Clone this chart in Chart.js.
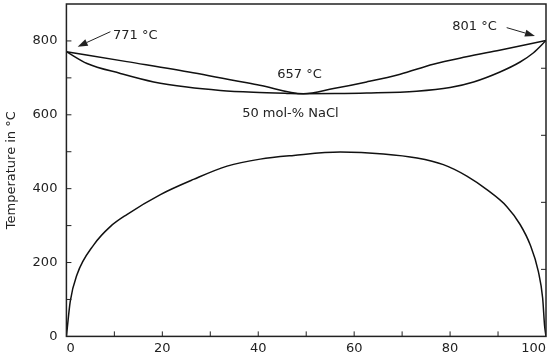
<!DOCTYPE html>
<html>
<head>
<meta charset="utf-8">
<script src="https://cdn.jsdelivr.net/npm/chart.js@4.4.0/dist/chart.umd.min.js"></script>
<style>
html, body { margin: 0; padding: 0; background: #fff; }
#wrap { width: 550px; height: 360px; }
</style>
</head>
<body>
<div id="wrap"><canvas id="myChart"></canvas></div>
<script>
// mol-% NaCl vs temperature (°C)
var liquidusX = [0, 12.6, 26.4, 40.3, 49.4, 55.7, 62.6, 69.6, 76.5, 83.4, 90.3, 100];
var liquidusT = [771, 744, 714, 680, 657, 671, 689, 710, 737, 757, 775, 801];

var solidusX = [0, 4.3, 11.25, 18.2, 25.1, 32.1, 39.0, 46.0, 49.4, 56, 62.6, 73, 80, 84.9, 90.4, 94.6, 97.4, 100];
var solidusT = [771, 739, 712, 689, 675, 666, 661, 658, 657, 657.5, 659, 664, 674, 689, 716, 743, 768, 801];

var solvusX = [0, 0.8, 2.2, 5.7, 9.2, 12.6, 19.6, 26.5, 33.5, 40.4, 47.4, 57.1, 66.1, 73.1, 78.6, 83.5, 87.6, 91.8, 94.6, 96.7, 98.4, 99.3, 99.7, 100];
var solvusT = [0, 95, 167, 248, 298, 330, 384, 425, 461, 480, 490, 499, 494, 483, 465, 434, 398, 352, 303, 248, 176, 104, 30, 0];

var xTicks = [10, 20, 30, 40, 50, 60, 70, 80, 90];
var yTicks = [100, 200, 300, 400, 500, 600, 700, 800];
var rightTicks = [181.5, 363, 544.5, 726];

function pts(xs, ys) {
    return xs.map(function (x, i) { return { x: x, y: ys[i] }; });
}

var FONT = 'DejaVu Sans';
var INK = '#222';

var extras = {
    id: 'extras',
    afterDatasetsDraw: function (chart) {
        var ctx = chart.ctx, a = chart.chartArea;
        var sx = chart.scales.x, sy = chart.scales.y;
        ctx.save();
        // frame
        ctx.strokeStyle = INK;
        ctx.lineWidth = 1.5;
        ctx.strokeRect(a.left, a.top, a.right - a.left, a.bottom - a.top);
        // inward ticks
        ctx.lineWidth = 1;
        ctx.beginPath();
        xTicks.forEach(function (v) {
            var p = sx.getPixelForValue(v);
            ctx.moveTo(p, a.bottom); ctx.lineTo(p, a.bottom - 5);
        });
        yTicks.forEach(function (v) {
            var p = sy.getPixelForValue(v);
            ctx.moveTo(a.left, p); ctx.lineTo(a.left + 5, p);
        });
        rightTicks.forEach(function (v) {
            var p = sy.getPixelForValue(v);
            ctx.moveTo(a.right, p); ctx.lineTo(a.right - 5, p);
        });
        ctx.stroke();

        // labels
        ctx.fillStyle = INK;
        ctx.font = '13px "' + FONT + '"';
        ctx.textBaseline = 'middle';
        ctx.textAlign = 'left';
        ctx.fillText('771 °C', sx.getPixelForValue(9.7), sy.getPixelForValue(813.6));
        ctx.textAlign = 'center';
        ctx.fillText('801 °C', sx.getPixelForValue(85.1), sy.getPixelForValue(839));
        ctx.fillText('657 °C', sx.getPixelForValue(48.6), sy.getPixelForValue(707.5));
        ctx.fillText('50 mol-% NaCl', sx.getPixelForValue(46.7), sy.getPixelForValue(602.7));

        // arrows
        function arrow(x1, y1, x2, y2) {
            var px1 = sx.getPixelForValue(x1), py1 = sy.getPixelForValue(y1);
            var px2 = sx.getPixelForValue(x2), py2 = sy.getPixelForValue(y2);
            var ang = Math.atan2(py2 - py1, px2 - px1);
            var len = 10, half = 3.5;
            var bx = px2 - len * Math.cos(ang), by = py2 - len * Math.sin(ang);
            ctx.beginPath();
            ctx.moveTo(px1, py1); ctx.lineTo(bx, by);
            ctx.lineWidth = 1;
            ctx.stroke();
            ctx.beginPath();
            ctx.moveTo(px2, py2);
            ctx.lineTo(bx + half * Math.sin(ang), by - half * Math.cos(ang));
            ctx.lineTo(bx - half * Math.sin(ang), by + half * Math.cos(ang));
            ctx.closePath();
            ctx.fill();
        }
        ctx.strokeStyle = INK;
        arrow(9.17, 825, 2.35, 784.5);
        arrow(91.8, 836, 97.7, 813.6);
        ctx.restore();
    }
};

var lineStyle = {
    showLine: true,
    borderColor: '#111',
    borderWidth: 1.5,
    pointRadius: 0,
    fill: false,
    cubicInterpolationMode: 'monotone'
};

var ctx = document.getElementById('myChart').getContext('2d');
var myChart = new Chart(ctx, {
    type: 'scatter',
    data: {
        datasets: [
            Object.assign({ label: 'liquidus', data: pts(liquidusX, liquidusT) }, lineStyle),
            Object.assign({ label: 'solidus', data: pts(solidusX, solidusT) }, lineStyle),
            Object.assign({ label: 'solvus', data: pts(solvusX, solvusT) }, lineStyle)
        ]
    },
    options: {
        responsive: true,
        maintainAspectRatio: false,
        animation: false,
        devicePixelRatio: 1,
        layout: { padding: { top: 4, right: 4, left: 4, bottom: 0 } },
        plugins: {
            legend: { display: false },
            tooltip: { enabled: false }
        },
        scales: {
            x: {
                type: 'linear',
                min: 0,
                max: 100,
                afterFit: function (s) { s.paddingLeft = 0; s.paddingRight = 0; },
                ticks: {
                    stepSize: 10,
                    autoSkip: false,
                    maxRotation: 0,
                    align: 'inner',
                    color: INK,
                    padding: 4,
                    font: { family: FONT, size: 13 },
                    callback: function (v) { return v % 20 === 0 ? v : ''; }
                },
                grid: { drawOnChartArea: false, drawTicks: false },
                border: { display: false }
            },
            y: {
                min: 0,
                max: 900,
                afterFit: function (s) { s.paddingTop = 0; s.paddingBottom = 0; },
                ticks: {
                    stepSize: 100,
                    autoSkip: false,
                    color: INK,
                    padding: 9,
                    font: { family: FONT, size: 13 },
                    callback: function (v) { return (v % 200 === 0 && v < 900) ? v : ''; }
                },
                grid: { drawOnChartArea: false, drawTicks: false },
                border: { display: false },
                title: {
                    display: true,
                    text: 'Temperature in °C',
                    color: INK,
                    font: { family: FONT, size: 13 },
                    padding: { top: 0, bottom: 4 }
                }
            }
        }
    },
    plugins: [extras]
});
</script>
</body>
</html>
